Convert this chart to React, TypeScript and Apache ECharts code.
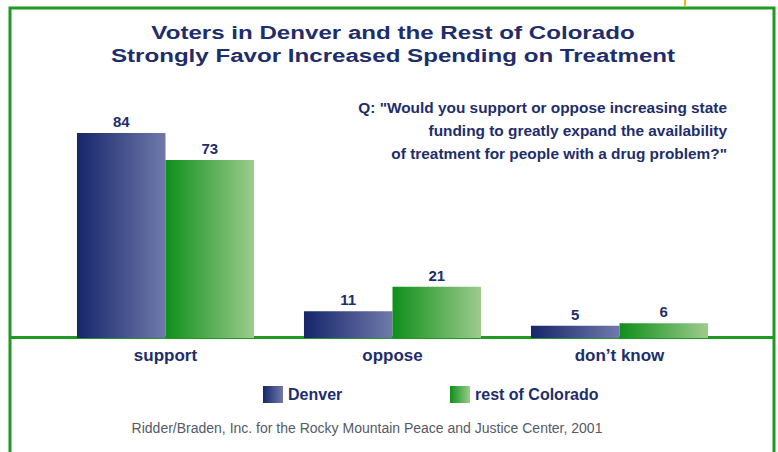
import React, { useEffect, useRef } from "react";
import * as echarts from "echarts";

const categories = ["support", "oppose", "don\u2019t know"];
const denver = [84, 11, 5];
const restOfColorado = [73, 21, 6];
const seriesNames = ["Denver", "rest of Colorado"];
const titleLines = [
  "Voters in Denver and the Rest of Colorado",
  "Strongly Favor Increased Spending on Treatment",
];
const questionLines = [
  'Q: "Would you support or oppose increasing state',
  "funding to greatly expand the availability",
  'of treatment for people with a drug problem?"',
];
const sourceText =
  "Ridder/Braden, Inc. for the Rocky Mountain Peace and Justice Center, 2001";

const NAVY = "#1e2d6b";
const GREEN = "#1f9a22";
const FONT = "'Liberation Sans', Arial, sans-serif";

const denverGrad = new echarts.graphic.LinearGradient(0, 0, 1, 0, [
  { offset: 0, color: "#15266a" },
  { offset: 1, color: "#7079aa" },
]);
const greenGrad = new echarts.graphic.LinearGradient(0, 0, 1, 0, [
  { offset: 0, color: "#0f8f1a" },
  { offset: 1, color: "#9dcb8d" },
]);

export default function App() {
  const ref = useRef<HTMLDivElement>(null);
  useEffect(() => {
    if (!ref.current) return;
    const chart = echarts.init(ref.current, null, { renderer: "svg" });
    const labelStyle = {
      show: true,
      position: "top" as const,
      distance: 4,
      color: NAVY,
      fontFamily: FONT,
      fontWeight: "bold" as const,
      fontSize: 15,
    };
    const legendText = { color: NAVY, fontFamily: FONT, fontWeight: "bold" as const, fontSize: 16 };
    chart.setOption({
      animation: false,
      backgroundColor: "#ffffff",
      grid: { left: 52, right: 45, top: 94, bottom: 114 },
      xAxis: {
        type: "category",
        data: categories,
        axisLine: { show: false },
        axisTick: { show: false },
        axisLabel: {
          color: NAVY,
          fontFamily: FONT,
          fontWeight: "bold",
          fontSize: 17,
          margin: 9,
        },
      },
      yAxis: {
        type: "value",
        min: 0,
        max: 100,
        show: false,
        splitLine: { show: false },
      },
      legend: [
        {
          data: [seriesNames[0]],
          left: 258,
          top: 381,
          icon: "rect",
          itemWidth: 20,
          itemHeight: 17,
          textStyle: legendText,
        },
        {
          data: [seriesNames[1]],
          left: 445,
          top: 381,
          icon: "rect",
          itemWidth: 20,
          itemHeight: 17,
          textStyle: legendText,
        },
      ],
      series: [
        {
          name: seriesNames[0],
          type: "bar",
          data: denver,
          barGap: "0%",
          barCategoryGap: "22%",
          itemStyle: { color: denverGrad },
          label: labelStyle,
        },
        {
          name: seriesNames[1],
          type: "bar",
          data: restOfColorado,
          barGap: "0%",
          barCategoryGap: "22%",
          itemStyle: { color: greenGrad },
          label: labelStyle,
        },
      ],
      graphic: [
        {
          type: "rect",
          shape: { x: 10, y: 8, width: 764, height: 470 },
          style: { fill: "none", stroke: GREEN, lineWidth: 3 },
          silent: true,
        },
        {
          type: "line",
          shape: { x1: 10, y1: 337.5, x2: 774, y2: 337.5 },
          style: { stroke: GREEN, lineWidth: 3 },
          silent: true,
        },
        {
          type: "line",
          shape: { x1: 685, y1: 0, x2: 685, y2: 6 },
          style: { stroke: "#f7b500", lineWidth: 2 },
          silent: true,
        },
        ...titleLines.map((t, i) => ({
          type: "text",
          x: 393,
          y: 32.5 + i * 23,
          scaleX: 1.27,
          silent: true,
          style: {
            text: t,
            x: 0,
            y: 0,
            align: "center",
            verticalAlign: "middle",
            fill: NAVY,
            font: `bold 19px ${FONT}`,
          },
        })),
        ...questionLines.map((t, i) => ({
          type: "text",
          x: 727,
          y: 107 + i * 23,
          silent: true,
          style: {
            text: t,
            x: 0,
            y: 0,
            align: "right",
            verticalAlign: "middle",
            fill: NAVY,
            font: `bold 15.4px ${FONT}`,
          },
        })),
        {
          type: "text",
          x: 367,
          y: 428,
          silent: true,
          style: {
            text: sourceText,
            x: 0,
            y: 0,
            align: "center",
            verticalAlign: "middle",
            fill: "#555a66",
            font: `14px ${FONT}`,
          },
        },
      ],
    });
    return () => chart.dispose();
  }, []);
  return (
    <div
      ref={ref}
      style={{ position: "fixed", left: 0, top: 0, width: 778, height: 452 }}
    />
  );
}
